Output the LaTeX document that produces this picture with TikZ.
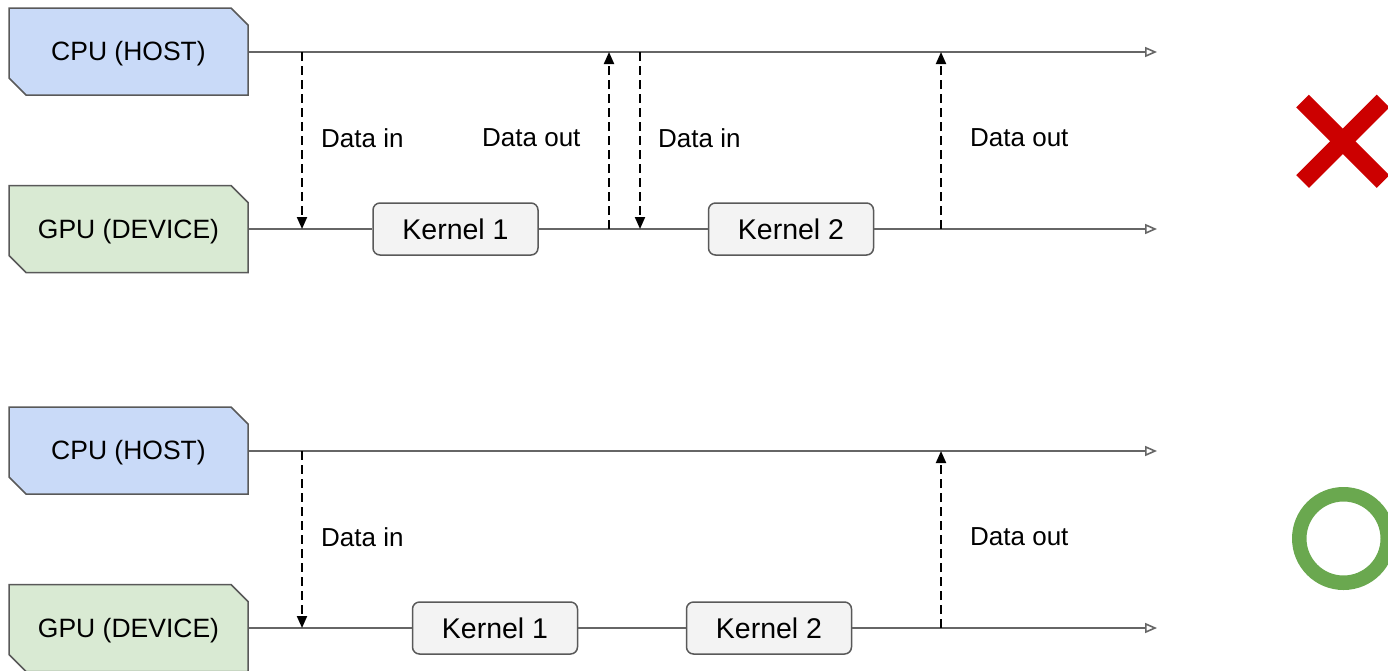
\documentclass[tikz,border=0pt]{standalone}
\usepackage{fontspec}
\setmainfont{Liberation Sans}
\usetikzlibrary{arrows.meta,shapes.misc}

\definecolor{hostfill}{HTML}{C9DAF8}
\definecolor{devfill}{HTML}{D9EAD3}
\definecolor{kernfill}{HTML}{F3F3F3}
\definecolor{edgegray}{HTML}{595959}
\definecolor{linegray}{HTML}{666666}
\definecolor{badred}{HTML}{CC0000}
\definecolor{goodgreen}{HTML}{6AA84F}

\tikzset{
  unitbox/.style={chamfered rectangle, chamfered rectangle corners={north east,south west},
    chamfered rectangle xsep=8.5pt, chamfered rectangle ysep=8.5pt,
    draw=edgegray, line width=1.5pt, minimum width=239pt, minimum height=87pt,
    inner sep=0pt, text height=18.6pt, text depth=0pt,
    font=\fontsize{26.5}{30}\selectfont},
  hostbox/.style={unitbox, fill=hostfill},
  devbox/.style={unitbox, fill=devfill},
  kernel/.style={rectangle, rounded corners=7pt, draw=edgegray, line width=1.5pt,
    fill=kernfill, minimum width=165pt, minimum height=52pt, inner sep=0pt,
    text height=20.3pt, text depth=0pt, font=\fontsize{28.5}{32}\selectfont},
  timeline/.style={draw=linegray, line width=2pt},
  timearrow/.style={timeline, -{Triangle[open,length=12pt,width=10pt,line width=1.6pt]}},
  transfer/.style={draw=black, line width=2pt, dash pattern=on 9pt off 5pt,
    -{Triangle[length=12pt,width=10pt]}},
  tag/.style={anchor=west, inner sep=0pt, font=\fontsize{26}{30}\selectfont},
}

\begin{document}
\begin{tikzpicture}[x=1pt,y=-1pt]
  \useasboundingbox (0,0) rectangle (1388,670);
  \begin{scope}
  \clip (0,0) rectangle (1388,670);

  % ---------- separate transfers around each kernel ----------
  \node[hostbox] (cpuA) at (128.5,51.5) {CPU (HOST)};
  \node[devbox]  (gpuA) at (128.5,229)  {GPU (DEVICE)};
  \node[kernel]  (kA1)  at (455.5,229)  {Kernel 1};
  \node[kernel]  (kA2)  at (791,229)    {Kernel 2};
  \coordinate (cpuAend) at (1157,52);
  \coordinate (gpuAend) at (1157,229);

  \draw[timearrow] (cpuA.east |- cpuAend) -- (cpuAend);
  \draw[timeline] (gpuA.east |- gpuAend) -- (kA1.west);
  \draw[timeline] (kA1.east) -- (kA2.west);
  \draw[timearrow] (kA2.east) -- (gpuAend);

  \coordinate (a1h) at (302,52);  \coordinate (a1d) at (302,229);
  \coordinate (a2h) at (609,52);  \coordinate (a2d) at (609,229);
  \coordinate (a3h) at (640,52);  \coordinate (a3d) at (640,229);
  \coordinate (a4h) at (941,52);  \coordinate (a4d) at (941,229);
  \draw[transfer] (a1h) -- (a1d);
  \draw[transfer] (a2d) -- (a2h);
  \draw[transfer] (a3h) -- (a3d);
  \draw[transfer] (a4d) -- (a4h);

  \node[tag] (tA1) at (321,138) {Data in};
  \node[tag] (tA2) at (482,138) {Data out};
  \node[tag] (tA3) at (658,138) {Data in};
  \node[tag] (tA4) at (970,138) {Data out};

  % cross mark
  \draw[badred, line width=18pt] (1302.5,101) -- (1383,181.5);
  \draw[badred, line width=18pt] (1383,101) -- (1302.5,181.5);

  % ---------- one transfer in, one transfer out ----------
  \node[hostbox] (cpuB) at (128.5,450.5) {CPU (HOST)};
  \node[devbox]  (gpuB) at (128.5,628)   {GPU (DEVICE)};
  \node[kernel]  (kB1)  at (495,628)     {Kernel 1};
  \node[kernel]  (kB2)  at (769,628)     {Kernel 2};
  \coordinate (cpuBend) at (1157,451);
  \coordinate (gpuBend) at (1157,628);

  \draw[timearrow] (cpuB.east |- cpuBend) -- (cpuBend);
  \draw[timeline] (gpuB.east |- gpuBend) -- (kB1.west);
  \draw[timeline] (kB1.east) -- (kB2.west);
  \draw[timearrow] (kB2.east) -- (gpuBend);

  \coordinate (b1h) at (302,451);  \coordinate (b1d) at (302,628);
  \coordinate (b2h) at (941,451);  \coordinate (b2d) at (941,628);
  \draw[transfer] (b1h) -- (b1d);
  \draw[transfer] (b2d) -- (b2h);

  \node[tag] (tB1) at (321,537) {Data in};
  \node[tag] (tB2) at (970,537) {Data out};

  % circle mark
  \draw[goodgreen, line width=14.5pt] (1343.5,538.5) circle[radius=44.25];
  \end{scope}
\end{tikzpicture}
\end{document}
